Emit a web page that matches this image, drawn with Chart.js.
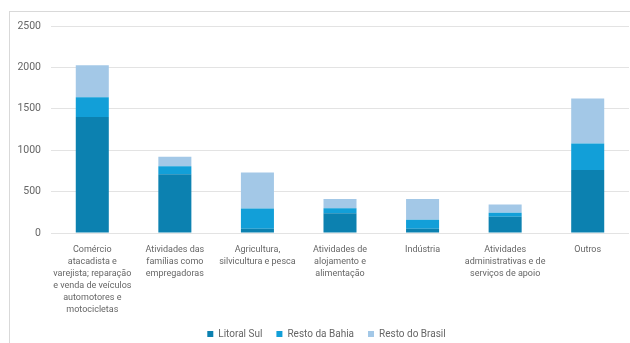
<!DOCTYPE html>
<html>
<head>
<meta charset="utf-8">
<script src="https://cdn.jsdelivr.net/npm/chart.js@4"></script>
<style>
  html, body { margin: 0; padding: 0; background: #fff; }
  #wrap { position: relative; width: 630px; height: 343px; }
</style>
</head>
<body>
<div id="wrap"><canvas id="chart" width="630" height="343"></canvas></div>
<script>
// Categories (wrapped as in the source chart)
const categories = [
    ['Comércio', 'atacadista e', 'varejista; reparação', 'e venda de veículos', 'automotores e', 'motocicletas'],
    ['Atividades das', 'famílias como', 'empregadoras'],
    ['Agricultura,', 'silvicultura e pesca'],
    ['Atividades de', 'alojamento e', 'alimentação'],
    'Indústria',
    ['Atividades', 'administrativas e de', 'serviços de apoio'],
    'Outros'
];

// Series values
const litoralSul   = [1400, 710, 50, 240, 50, 195, 760];
const restoBahia   = [240, 95, 245, 60, 110, 50, 320];
const restoBrasil  = [385, 115, 435, 110, 250, 100, 545];

const yTicks = [0, 500, 1000, 1500, 2000, 2500];

const textColor = '#666666';
const fontFamily = 'Roboto, "Liberation Sans", sans-serif';

// Thin frame round the chart, like the Excel chart area
const framePlugin = {
    id: 'frame',
    beforeDraw(chart) {
        const ctx = chart.ctx;
        ctx.save();
        ctx.strokeStyle = '#d9d9d9';
        ctx.lineWidth = 1;
        ctx.strokeRect(9.5, 11.5, 640, 340);
        ctx.restore();
    },
    // the source legend sits a bit right of the canvas centre
    afterLayout(chart) {
        if (chart.legend) {
            chart.legend.left += 12;
            chart.legend.right += 12;
        }
    }
};

function series(label, data, color) {
    return {
        label: label,
        data: data,
        backgroundColor: color,
        borderWidth: 0,
        barPercentage: 0.4,
        categoryPercentage: 1.0
    };
}

const ctx = document.getElementById('chart').getContext('2d');
new Chart(ctx, {
    type: 'bar',
    data: {
        labels: categories,
        datasets: [
            series('Litoral Sul', litoralSul, '#0c81b0'),
            series('Resto da Bahia', restoBahia, '#129fd8'),
            series('Resto do Brasil', restoBrasil, '#a3c8e7')
        ]
    },
    plugins: [framePlugin],
    options: {
        responsive: false,
        animation: false,
        layout: { padding: { left: 0, right: 1, top: 26, bottom: -6 } },
        plugins: {
            tooltip: { enabled: false },
            legend: {
                position: 'bottom',
                labels: {
                    boxWidth: 6,
                    boxHeight: 6,
                    padding: 14,
                    color: textColor,
                    font: { family: fontFamily, size: 10 }
                }
            }
        },
        scales: {
            x: {
                stacked: true,
                grid: { display: false, drawTicks: false },
                border: { display: false },
                afterFit(scale) { scale.height = 82; },
                ticks: {
                    color: textColor,
                    maxRotation: 0,
                    autoSkip: false,
                    padding: 11,
                    font: { family: fontFamily, size: 9, lineHeight: 1.32 }
                }
            },
            y: {
                stacked: true,
                min: 0,
                max: 2500,
                afterFit(scale) { scale.width = 51; },
                afterBuildTicks(scale) { scale.ticks = yTicks.map(v => ({ value: v })); },
                grid: { color: '#e3e3e3', drawTicks: false },
                border: { display: false },
                ticks: {
                    color: textColor,
                    padding: 10,
                    font: { family: fontFamily, size: 10.5 },
                    callback: v => String(v)
                }
            }
        }
    }
});
</script>
</body>
</html>
